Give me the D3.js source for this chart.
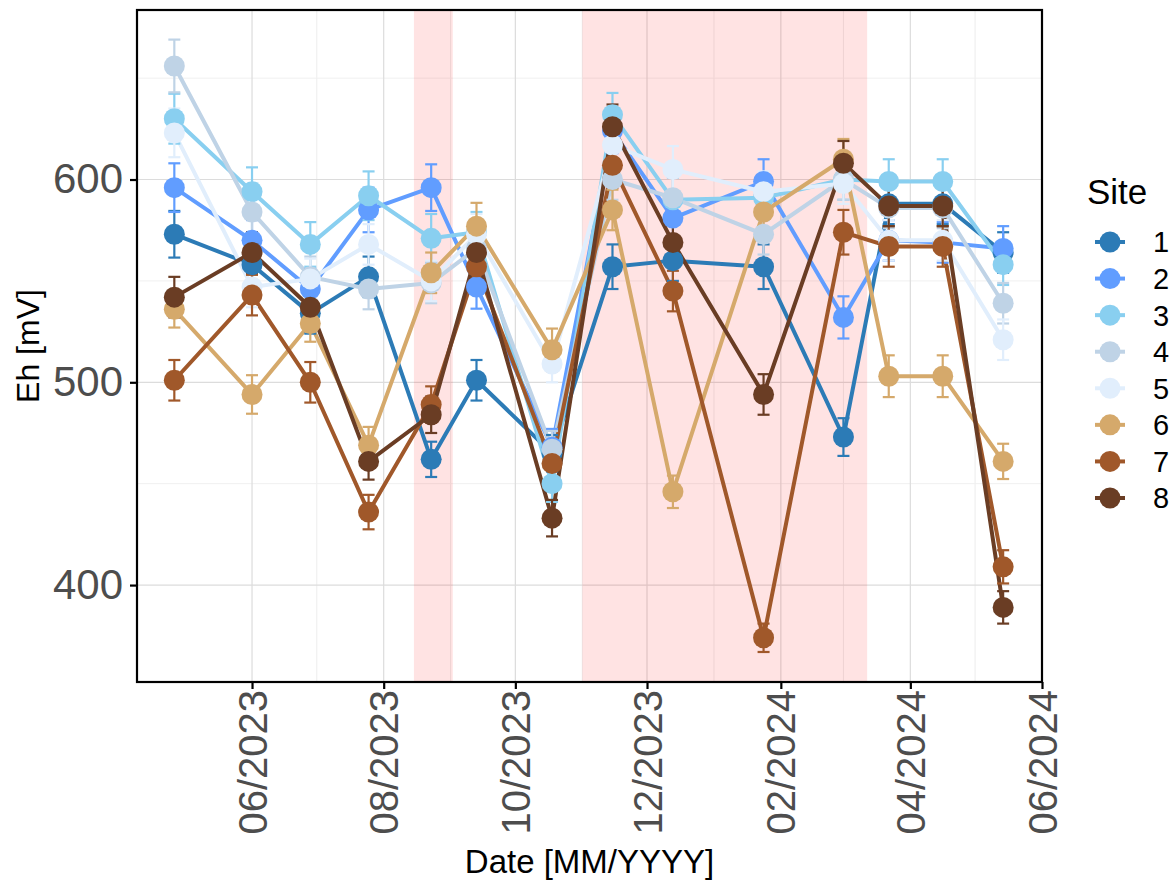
<!DOCTYPE html>
<html>
<head>
<meta charset="utf-8">
<script src="https://cdn.jsdelivr.net/npm/d3@7"></script>
<style>
  html, body { margin: 0; padding: 0; background: #fff; }
  svg { display: block; font-family: "Liberation Sans", Arial, sans-serif; }
</style>
</head>
<body>
<svg id="chart" width="1176" height="883"></svg>
<script>
// ---------------- data ----------------
const sites = ["1", "2", "3", "4", "5", "6", "7", "8"];
const siteColors = ["#2c7bb6", "#619dff", "#89cff0", "#bfd3e6", "#e1eefc", "#d5a96b", "#a0582a", "#6a3d24"];
const sampleDates = ["2023-04-26", "2023-06-01", "2023-06-28", "2023-07-25", "2023-08-23", "2023-09-13", "2023-10-18",
                     "2023-11-15", "2023-12-13", "2024-01-24", "2024-03-01", "2024-03-22", "2024-04-16", "2024-05-14"];

const eh1 = [573, 558, 534, 552, 462, 501, 465, 557, 560, 557, 473, 588, 588, 564];
const eh2 = [596, 570, 546, 585, 596, 547, 468, 624, 581, 599, 532, 570, 569, 566];
const eh3 = [630, 594, 568, 592, 571, 574, 450, 632, 590, 591, 600, 599, 599, 558];
const eh4 = [656, 584, 552, 546, 549, 566, 467, 600, 591, 573, 600, 586, 586, 539];
const eh5 = [623, 547, 551, 568, 550, 573, 509, 617, 605, 594, 598, 570, 570, 521];
const eh6 = [536, 494, 529, 469, 554, 577, 516, 585, 446, 584, 610, 503, 503, 461];
const eh7 = [501, 543, 500, 436, 489, 557, 460, 607, 545, 374, 574, 567, 567, 409];
const eh8 = [542, 564, 537, 461, 484, 564, 433, 626, 569, 494, 608, 587, 587, 389];

const se1 = [11.5, 10, 10, 10, 8.7, 10, 9, 11, 10, 11, 9.3, 10, 10, 10];
const se2 = [12, 10, 10, 11, 11.5, 10.7, 9, 11, 10, 11, 10.4, 10, 10, 11];
const se3 = [12.3, 12, 11, 12, 12, 10, 9, 10.7, 11, 11, 10, 11, 11, 10];
const se4 = [13, 10, 10, 10, 10, 10, 9, 10, 10, 10, 10, 10, 10, 10];
const se5 = [12, 10, 10, 10, 10, 10, 9, 11, 11.5, 10, 10, 10, 10, 10];
const se6 = [9, 9.5, 9, 9, 10, 11.5, 10.5, 10, 8, 10, 10, 10.3, 10.3, 8.7];
const se7 = [10, 10, 10, 8.5, 9, 10, 9, 11, 10, 7, 11, 10, 10, 8.2];
const se8 = [10, 10, 10, 9, 9, 10, 9, 11, 10, 10, 11, 10, 10, 8];

const ehValues = [eh1, eh2, eh3, eh4, eh5, eh6, eh7, eh8];
const seValues = [se1, se2, se3, se4, se5, se6, se7, se8];

// shaded periods
const shadeStarts = ["2023-08-15", "2023-11-01"];
const shadeEnds   = ["2023-09-02", "2024-03-12"];

// axis ticks
const xMajorTicks = ["2023-06-01", "2023-08-01", "2023-10-01", "2023-12-01", "2024-02-01", "2024-04-01", "2024-06-01"];
const xMajorLabels = ["06/2023", "08/2023", "10/2023", "12/2023", "02/2024", "04/2024", "06/2024"];
const xMinorTicks = ["2023-07-01", "2023-09-01", "2023-11-01", "2024-01-01", "2024-03-01", "2024-05-01"];
const yMajorTicks = [400, 500, 600];
const yMinorTicks = [450, 550, 650];

// ---------------- layout ----------------
const parse = d3.timeParse("%Y-%m-%d");
const svg = d3.select("#chart");
const P = { left: 137, right: 1042, top: 10, bottom: 682 };

const x = d3.scaleTime()
  .domain([new Date(2023, 3, 8, 17, 0), new Date(2024, 5, 1)])
  .range([P.left, P.right]);
const y = d3.scaleLinear()
  .domain([352.2, 683.6])
  .range([P.bottom, P.top]);

svg.append("rect").attr("width", 1176).attr("height", 883).attr("fill", "#fff");

const panel = svg.append("g");
// minor grid
panel.selectAll(".gxm").data(xMinorTicks).join("line")
  .attr("x1", d => x(parse(d))).attr("x2", d => x(parse(d)))
  .attr("y1", P.top).attr("y2", P.bottom)
  .attr("stroke", "#ededed").attr("stroke-width", 1);
panel.selectAll(".gym").data(yMinorTicks).join("line")
  .attr("x1", P.left).attr("x2", P.right)
  .attr("y1", d => y(d)).attr("y2", d => y(d))
  .attr("stroke", "#f0f0f0").attr("stroke-width", 1);
// major grid
panel.selectAll(".gx").data(xMajorTicks).join("line")
  .attr("x1", d => x(parse(d))).attr("x2", d => x(parse(d)))
  .attr("y1", P.top).attr("y2", P.bottom)
  .attr("stroke", "#dcdcdc").attr("stroke-width", 1.2);
panel.selectAll(".gy").data(yMajorTicks).join("line")
  .attr("x1", P.left).attr("x2", P.right)
  .attr("y1", d => y(d)).attr("y2", d => y(d))
  .attr("stroke", "#dcdcdc").attr("stroke-width", 1.2);

// shaded periods
panel.selectAll(".shade").data(shadeStarts).join("rect")
  .attr("x", d => x(parse(d)))
  .attr("width", (d, i) => x(parse(shadeEnds[i])) - x(parse(d)))
  .attr("y", P.top).attr("height", P.bottom - P.top)
  .attr("fill", "#ff0000").attr("fill-opacity", 0.11);

// series
const series = sites.map((s, i) => ({
  site: s, color: siteColors[i],
  pts: sampleDates.map((d, j) => ({ date: parse(d), v: ehValues[i][j], e: seValues[i][j] }))
}));

const line = d3.line().x(d => x(d.date)).y(d => y(d.v));
const gLines = svg.append("g");
series.forEach(s => {
  gLines.append("path").attr("d", line(s.pts))
    .attr("fill", "none").attr("stroke", s.color).attr("stroke-width", 4)
    .attr("stroke-linejoin", "round");
});

const gErr = svg.append("g");
const capW = 6;
series.forEach(s => {
  const g = gErr.append("g").attr("stroke", s.color).attr("stroke-width", 2.2).attr("fill", "none");
  s.pts.forEach(p => {
    const cx = x(p.date), y0 = y(p.v - p.e), y1 = y(p.v + p.e);
    g.append("line").attr("x1", cx).attr("x2", cx).attr("y1", y0).attr("y2", y1);
    g.append("line").attr("x1", cx - capW).attr("x2", cx + capW).attr("y1", y0).attr("y2", y0);
    g.append("line").attr("x1", cx - capW).attr("x2", cx + capW).attr("y1", y1).attr("y2", y1);
  });
});

const gPts = svg.append("g");
series.forEach(s => {
  gPts.append("g").selectAll("circle").data(s.pts).join("circle")
    .attr("cx", d => x(d.date)).attr("cy", d => y(d.v)).attr("r", 10.5)
    .attr("fill", s.color);
});

// panel border
svg.append("rect").attr("x", P.left).attr("y", P.top)
  .attr("width", P.right - P.left).attr("height", P.bottom - P.top)
  .attr("fill", "none").attr("stroke", "#000").attr("stroke-width", 2.2);

// y axis
const yAxis = d3.axisLeft(y).tickValues(yMajorTicks).tickSize(7).tickPadding(7);
const gy = svg.append("g").attr("transform", `translate(${P.left},0)`).call(yAxis);
gy.select(".domain").remove();
gy.selectAll(".tick line").attr("stroke", "#000").attr("stroke-width", 2.2);
gy.selectAll(".tick text").attr("fill", "#4d4d4d").attr("font-size", 42)
  .attr("font-family", "Liberation Sans, Arial, sans-serif");

// x axis
const xAxis = d3.axisBottom(x).tickValues(xMajorTicks.map(parse))
  .tickFormat((d, i) => xMajorLabels[i]).tickSize(7).tickPadding(8);
const gx = svg.append("g").attr("transform", `translate(0,${P.bottom})`).call(xAxis);
gx.select(".domain").remove();
gx.selectAll(".tick line").attr("stroke", "#000").attr("stroke-width", 2.2);
gx.selectAll(".tick text").attr("fill", "#4d4d4d").attr("font-size", 40)
  .attr("font-family", "Liberation Sans, Arial, sans-serif")
  .attr("transform", "rotate(-90)")
  .attr("text-anchor", "end").attr("dy", "0.35em").attr("x", -8).attr("y", 0);

// axis titles
svg.append("text").attr("x", (P.left + P.right) / 2).attr("y", 873)
  .attr("text-anchor", "middle").attr("font-size", 33).attr("fill", "#000")
  .text("Date [MM/YYYY]");
svg.append("text")
  .attr("transform", `translate(39,${(P.top + P.bottom) / 2}) rotate(-90)`)
  .attr("text-anchor", "middle").attr("font-size", 32).attr("fill", "#000")
  .text("Eh [mV]");

// legend
const lg = svg.append("g").attr("transform", "translate(1087,0)");
lg.append("text").attr("x", 0).attr("y", 204).attr("font-size", 35).attr("fill", "#000").text("Site");
const ly = d3.scalePoint().domain(sites).range([242, 498]);
sites.forEach((s, i) => {
  const cy = ly(s);
  lg.append("line").attr("x1", 8).attr("x2", 38).attr("y1", cy).attr("y2", cy)
    .attr("stroke", siteColors[i]).attr("stroke-width", 4);
  lg.append("circle").attr("cx", 23).attr("cy", cy).attr("r", 10.5).attr("fill", siteColors[i]);
  lg.append("text").attr("x", 66).attr("y", cy).attr("dy", "0.36em")
    .attr("font-size", 29).attr("fill", "#000").text(s);
});
</script>
</body>
</html>
